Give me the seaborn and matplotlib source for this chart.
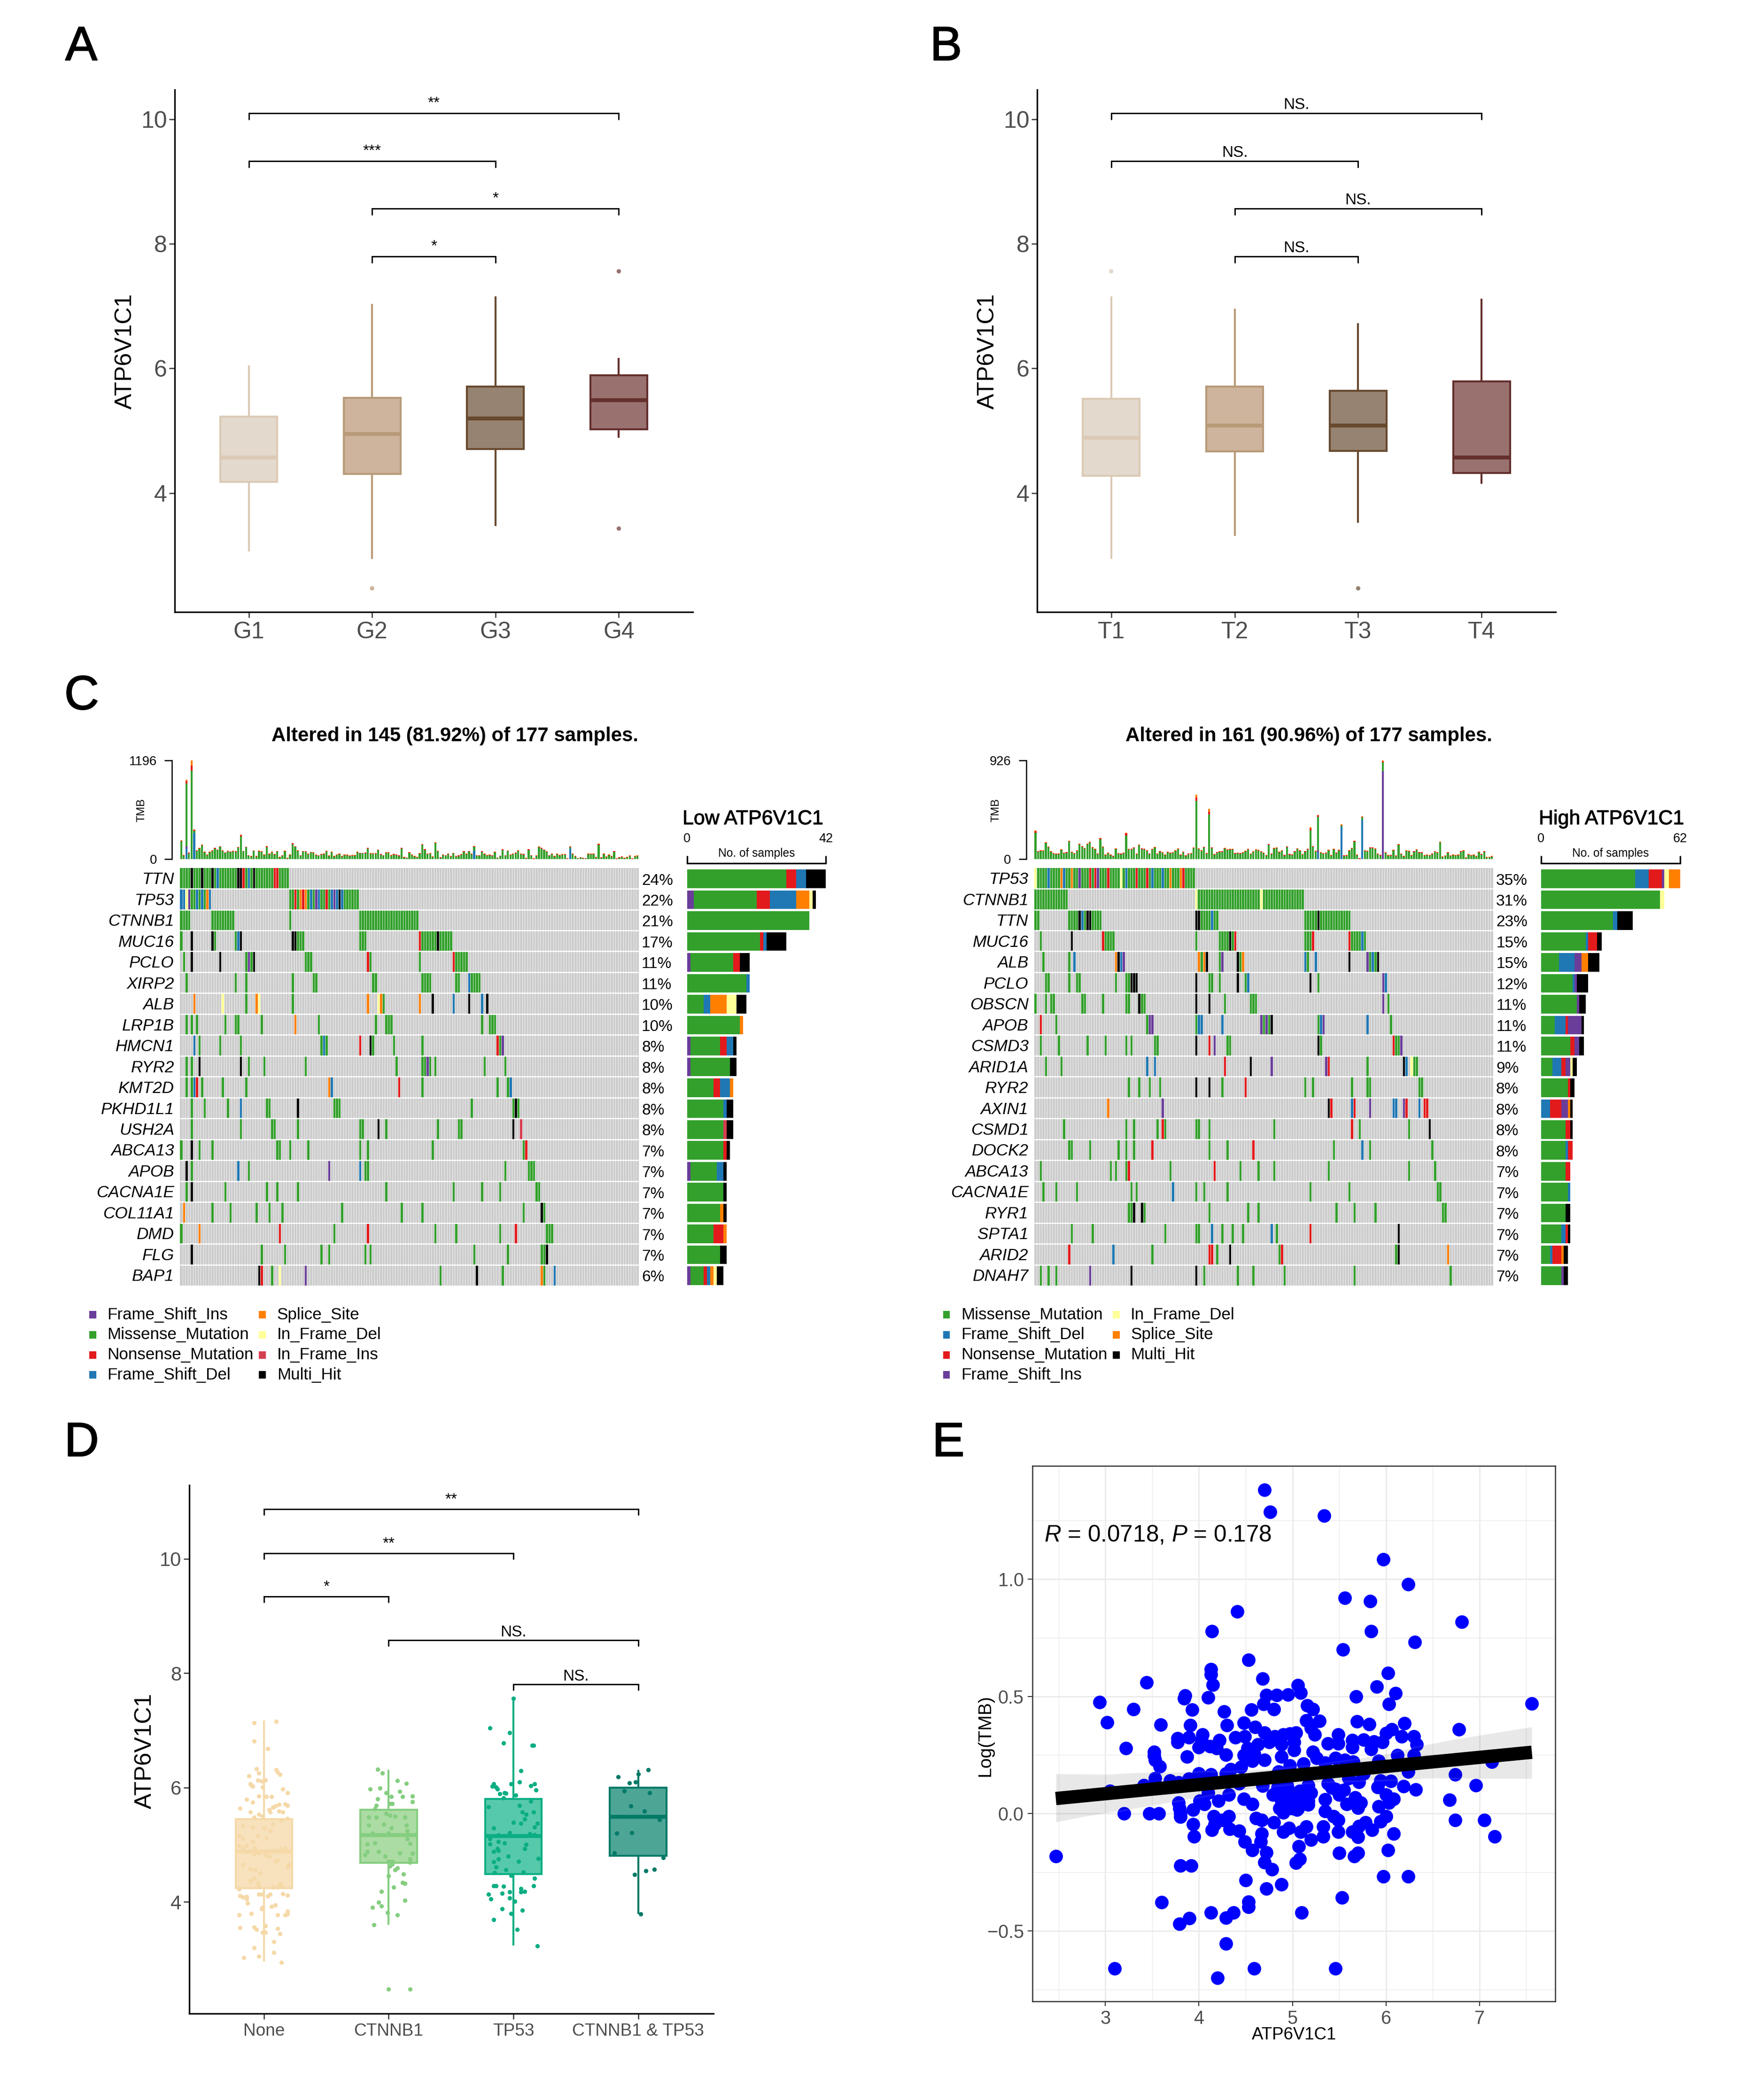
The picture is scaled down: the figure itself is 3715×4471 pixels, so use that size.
import re
import numpy as np
import pandas as pd
import seaborn as sns
import matplotlib
matplotlib.use("Agg")
import matplotlib.pyplot as plt
import matplotlib.patheffects as pe
from matplotlib.colors import ListedColormap
from matplotlib.patches import Rectangle
from matplotlib.ticker import MultipleLocator

W, H = 3715, 4471
sns.set_theme(style="white")
plt.rcParams["font.family"] = ["Liberation Sans", "DejaVu Sans"]
plt.rcParams["mathtext.fontset"] = "custom"
plt.rcParams["mathtext.rm"] = "Liberation Sans"
plt.rcParams["mathtext.it"] = "Liberation Sans:italic"

# ---------------- Panel A / B box summaries: low, q1, median, q3, high
grade_labels = ["G1", "G2", "G3", "G4"]
grade_stats = [[3.06, 4.18, 4.57, 5.23, 6.05], [2.94, 4.31, 4.95, 5.53, 7.04],
               [3.47, 4.71, 5.20, 5.71, 7.16], [4.89, 5.02, 5.49, 5.89, 6.17]]
grade_outliers = [(1, 2.47), (3, 7.56), (3, 3.43)]
stage_labels = ["T1", "T2", "T3", "T4"]
stage_stats = [[2.94, 4.28, 4.89, 5.51, 7.16], [3.31, 4.67, 5.08, 5.71, 6.96],
               [3.52, 4.68, 5.08, 5.64, 6.73], [4.15, 4.32, 4.57, 5.79, 7.12]]
stage_outliers = [(0, 7.56), (2, 2.47)]
brown_fill = ["#E3D9CC", "#CEB49C", "#978371", "#997270"]
brown_edge = ["#DCCAB6", "#B89A78", "#68492E", "#642F2C"]
grade_brackets = [(0, 3, 10.1, "**"), (0, 2, 9.33, "***"), (1, 3, 8.57, "*"), (1, 2, 7.8, "*")]
stage_brackets = [(0, 3, 10.1, "NS."), (0, 2, 9.33, "NS."), (1, 3, 8.57, "NS."), (1, 2, 7.8, "NS.")]

# ---------------- Panel D
mut_labels = ["None", "CTNNB1", "TP53", "CTNNB1 & TP53"]
mut_stats = [[2.96, 4.24, 4.88, 5.45, 7.17], [3.60, 4.68, 5.17, 5.61, 6.31],
             [3.24, 4.49, 5.15, 5.80, 7.56], [3.79, 4.81, 5.49, 6.00, 6.31]]
green_fill = ["#F8E2BD", "#ABDCA3", "#57C9AB", "#4DA595"]
green_edge = ["#F5D9A8", "#85CE80", "#0BAE83", "#047A68"]
mut_brackets = [(0, 3, 10.87, "**"), (0, 2, 10.10, "**"), (0, 1, 9.34, "*"),
                (1, 3, 8.58, "NS."), (2, 3, 7.81, "NS.")]
none_dx = [-.16,-.04,.08,.14,-.08,.08,.01,.13,-.01,.01,-.08,-.06,-.19,.11,-.20,-.10,-.01,-.02,.06,.09,.17,.19,.19,.11,.03,-.04,-.02,.05,.15,.19,-.19,-.17,-.14,-.13,-.14,-.20,-.05,-.04,.07,.11,.13,.14,-.08,-.11,-.03,-.07,-.11,-.17,.20,.19,.09,.11,.04,.01,-.08,-.04,-.17,-.14,-.20,-.09,-.07,.08,.17,.13,.19,.02,.05,0,-.09,-.17,-.20,-.17,-.05,.07,.14,.19,-.08,-.01,.05,-.04,.12,.04,.15,-.11,-.19,-.14,-.09,-.04,.02,.06,.09,.07,.17,.19,.12,.15,.19,-.01,-.10,-.09,-.11,-.05,-.02,.01,-.12,-.04,-.06,.10,.11,.13,-.08,.03,-.08,.10]
none_y = [3.02,3.05,3.11,2.94,3.20,3.30,3.47,3.44,3.47,3.58,3.56,3.52,3.55,3.53,3.77,3.80,3.90,3.88,3.92,3.94,3.77,3.84,3.79,3.77,4.10,4.13,4.13,4.13,4.14,4.12,4.11,4.08,4.05,3.98,4.09,4.22,4.33,4.28,4.26,4.26,4.31,4.28,4.41,4.37,4.50,4.56,4.58,4.65,4.65,4.61,4.71,4.73,4.80,4.82,4.84,4.86,4.94,4.99,4.99,5.05,4.95,4.90,4.94,4.92,4.88,5.12,5.24,5.29,5.31,5.33,5.16,5.11,5.16,5.36,5.43,5.46,5.48,5.50,5.57,5.53,5.59,5.61,5.57,5.57,5.64,5.79,5.74,5.85,5.84,5.84,5.68,5.65,5.71,5.69,5.70,5.97,5.91,6.01,6.04,6.02,6.06,6.13,6.11,6.13,6.20,6.25,6.33,6.31,6.27,6.23,6.81,6.68,7.13,7.16]
ctnnb1_dx = [-.09,-.05,.07,.14,-.15,-.07,-.02,.09,.19,.11,-.09,.02,.19,.01,.03,-.10,-.11,-.02,.01,-.16,-.10,.13,.05,-.16,-.04,.14,.02,.15,-.13,0,-.17,-.11,.15,.17,-.17,-.08,.09,.19,-.19,-.03,.17,.03,0,.17,.03,.01,.07,.05,.12,0,.11,.13,.04,-.06,.13,-.08,-.06,-.13,-.01,.07,-.12,0,.17]
ctnnb1_y = [6.32,6.25,6.12,6.07,5.97,5.99,5.91,5.93,5.85,5.84,5.80,5.84,5.75,5.72,5.72,5.69,5.63,5.55,5.51,5.48,5.48,5.48,5.50,5.34,5.36,5.34,5.29,5.24,5.20,5.20,5.01,5.03,5.10,5.02,4.88,4.88,4.86,4.85,4.82,4.80,4.75,4.71,4.71,4.69,4.66,4.63,4.59,4.56,4.49,4.45,4.34,4.32,4.26,4.18,4.03,3.99,3.93,3.90,3.81,3.77,3.60,2.47,2.47]
tp53_dx = [0,-.19,-.03,-.08,.15,.16,.06,.05,.17,.14,-.02,-.16,-.17,-.14,-.13,.18,-.07,-.06,-.11,.02,-.08,.14,-.20,.05,.07,.10,.16,.09,0,.19,.06,-.16,.17,-.03,.13,.17,-.12,-.19,-.12,-.07,-.19,.10,-.13,.09,-.16,-.12,-.04,-.12,.20,.04,-.16,-.14,-.06,-.15,.08,-.02,.17,-.16,-.14,-.08,.16,.06,.06,.09,-.20,-.09,-.03,-.18,.01,-.03,-.09,.07,-.02,-.16,.03,.19]
tp53_y = [7.56,7.04,6.96,6.78,6.74,6.74,6.29,6.10,6.06,6.03,6.06,6.06,6.02,6.01,5.97,5.96,5.91,5.90,5.89,5.87,5.82,5.76,5.66,5.69,5.57,5.53,5.57,5.45,5.39,5.37,5.37,5.29,5.31,5.21,5.19,5.18,5.17,5.10,5.05,5.03,5.01,5.00,4.93,4.93,4.88,4.90,4.80,4.75,4.76,4.71,4.70,4.61,4.56,4.51,4.52,4.46,4.41,4.28,4.28,4.27,4.28,4.23,4.17,4.18,4.13,4.15,4.17,4.05,4.01,4.07,3.88,3.85,3.80,3.69,3.52,3.23]
both_dx = [.08,-.16,0,-.02,-.07,-.11,.09,-.06,.05,.17,-.17,-.05,-.19,.20,.13,.06,-.03,.02]
both_y = [6.31,6.19,6.24,6.10,6.08,5.94,5.91,5.68,5.59,5.44,5.20,5.21,4.86,4.77,4.57,4.54,4.48,3.79]

# ---------------- Panel E
tmb_x = [4.70,4.76,5.34,5.97,6.24,5.56,5.83,4.41,6.81,4.14,5.84,6.31,5.54,4.53,4.13,4.13,6.02,4.68,3.44,4.15,5.06,5.90,5.09,4.95,4.83,4.72,6.10,3.85,3.84,4.10,5.68,2.94,6.03,4.69,5.16,7.56,5.22,3.30,4.56,4.80,3.93,4.27,5.15,5.29,3.02,5.69,5.82,6.20,4.48,4.30,3.59,3.91,4.60,5.20,6.06,6.78,4.70,6.00,5.24,5.49,4.04,6.30,6.17,3.77,3.89,4.39,4.49,5.04,4.97,4.90,4.81,3.77,4.22,4.03,5.64,5.76,5.87,5.96,5.38,5.49,6.33,5.02,4.88,4.75,4.63,4.12,4.00,4.19,4.52,5.64,5.84,3.22,5.02,3.52,5.22,4.29,4.48,4.59,6.12,6.30,4.88,3.87,3.52,3.53,5.26,5.46,4.70,4.57,5.56,5.65,5.92,7.13,5.35,3.58,4.97,5.12,4.45,4.34,4.85,6.24,5.76,4.00,4.13,6.74,4.29,3.53,3.89,3.69,5.94,6.05,3.78,4.43,5.71,3.41,4.68,5.17,5.38,5.91,6.19,6.96,6.32,3.05,5.08,5.46,5.55,4.79,4.95,5.20,4.10,4.32,6.00,4.48,4.01,4.21,6.08,5.67,4.88,5.04,5.17,5.35,6.68,6.03,5.73,3.78,4.06,4.57,5.58,5.17,4.88,3.79,4.99,5.70,5.92,4.86,3.94,5.05,3.20,3.47,3.57,3.80,4.90,5.35,3.80,4.16,4.32,5.44,6.00,4.61,5.49,6.74,7.05,4.25,4.67,5.94,4.80,3.94,5.78,4.17,5.71,4.33,4.96,5.15,5.33,4.14,5.85,4.43,4.90,5.49,5.09,5.64,4.67,6.08,5.70,3.95,7.16,5.33,5.20,4.49,4.66,5.07,4.57,6.02,4.72,5.50,5.70,5.66,2.47,5.08,4.70,5.04,3.80,3.92,4.78,5.97,6.24,4.50,4.88,4.72,5.53,4.53,3.60,4.53,4.13,5.10,4.37,4.29,3.90,3.79,4.29,3.10,4.59,5.46,4.20,4.92,4.98,5.10,4.84,5.00,5.13,4.94,5.06,4.90,5.16,5.42,5.50,5.60]
tmb_y = [1.38,1.285,1.27,1.084,.978,.92,.906,.861,.818,.778,.778,.732,.699,.656,.616,.594,.60,.576,.559,.549,.548,.541,.516,.508,.506,.506,.513,.503,.491,.496,.50,.475,.468,.468,.461,.47,.446,.445,.443,.445,.443,.435,.398,.395,.39,.393,.382,.385,.388,.377,.38,.377,.37,.365,.359,.359,.345,.344,.337,.337,.337,.329,.329,.32,.324,.324,.329,.345,.342,.337,.329,.304,.312,.312,.312,.315,.307,.304,.299,.299,.294,.304,.295,.304,.295,.287,.282,.279,.279,.282,.275,.279,.27,.262,.262,.25,.249,.254,.249,.249,.242,.242,.246,.229,.237,.237,.229,.224,.229,.221,.224,.221,.216,.20,.204,.212,.199,.188,.179,.179,.171,.171,.166,.166,.171,.151,.149,.141,.141,.138,.133,.129,.134,.12,.118,.121,.129,.113,.116,.121,.103,.096,.096,.105,.10,.08,.08,.088,.088,.08,.08,.063,.055,.055,.063,.068,.055,.055,.055,.06,.058,.046,.046,.046,.041,.041,.041,.038,.03,.022,.022,.025,.03,.022,.017,.017,0,0,0,0,.005,.01,-.013,-.012,-.012,-.012,-.012,-.02,-.028,-.027,-.027,-.028,-.028,-.033,-.037,-.045,-.037,-.045,-.053,-.066,-.061,-.056,-.056,-.07,-.07,-.073,-.078,-.078,-.078,-.078,-.086,-.085,-.10,-.098,-.098,-.098,-.111,-.12,-.12,-.139,-.156,-.156,-.166,-.168,-.168,-.181,-.181,-.194,-.207,-.209,-.221,-.221,-.237,-.267,-.267,-.284,-.302,-.319,-.357,-.375,-.378,-.397,-.422,-.422,-.422,-.443,-.445,-.47,-.553,-.659,-.659,-.659,-.70,.07,.09,.06,.11,.03,.05,.12,.02,.13,.04,.11,.08,.15]

# ---------------- Panel C: oncoplots
mut_colors = {"M": "#33A02C", "N": "#E31A1C", "D": "#1F78B4", "I": "#6A3D9A",
              "S": "#FF7F00", "Y": "#FFFF99", "C": "#D53E4F", "H": "#000000"}
mut_names = {"M": "Missense_Mutation", "N": "Nonsense_Mutation", "D": "Frame_Shift_Del",
             "I": "Frame_Shift_Ins", "S": "Splice_Site", "Y": "In_Frame_Del",
             "C": "In_Frame_Ins", "H": "Multi_Hit"}
low_genes = ["TTN","TP53","CTNNB1","MUC16","PCLO","XIRP2","ALB","LRP1B","HMCN1","RYR2","KMT2D","PKHD1L1","USH2A","ABCA13","APOB","CACNA1E","COL11A1","DMD","FLG","BAP1"]
low_pct = [24,22,21,17,11,11,10,10,8,8,8,8,8,7,7,7,7,7,7,6]
low_specs = [
 "M0-41 H4 H8 H12 D14 H22-23 N24 D26 H28 N36-37",
 "D0-1 Y2 I3 M4-5 D6 M7 D8 M9 S10 D11 M42-43 N44 M45 S46 N47 S48 M49 D50 M51 I52 D53 M54-55 N56 M57 D58 I59 D60 H61 D62 M63-68",
 "M0-3 M12-20 M42 M69-91",
 "M0 H4 H12 M13 M21 D22 H23 H43-44 M45-47 M69-71 N92 M93-98 H99 M100-104",
 "M1 H4 H15 M25 I26 M27 H28 M48-50 N72 M73 M92 N105 M106-110",
 "M2 M21 M25 M43 M51-52 M74-75 M93-96 M106-107 D111 M112-115",
 "S5 Y16 M25 S29 Y30 M43 S72 Y76 S77 M78 S92 H97 D105 H111 D116 H118",
 "M2 M4 M6 M17 M21-22 M31 S44 M53 M75 M79-81 M116 M119-121",
 "D5 M7 M15 M23 M54 D55 M56 N69 H73 M74 M82 M93 N122 M123 I124",
 "M2 M4 H7 H23 M26 M32 M48 M83 M93-94 I95 M96 M98 M117 M125",
 "M2 M4 D5 N6 M8 M16 M25 S57 D58 N84 M93 M122 M126 D127",
 "M4 M9 M18 D23 M33-34 H45 M59-61 M112 M128 H129 M130",
 "M4 M23 M35-36 M45 M69-70 H76 M79 M99 M107-108 H128 C131",
 "M0 H4 M7 M12 M37-38 M42 M49 M69 M72 M97 M132 N133",
 "H2 M4 D22 M26 I57 D69 M71-72 M125 M134-136",
 "M2 H4 M17 M33 M37 M45 M79 M105 M116 M123 M137-138",
 "S1 M12 M19 M29 M34 M39 M62 M85 M93 M132 H139 M140",
 "M0 S7 N38 M59 N72 M98 M106 M123 N129 M141-143",
 "H4 M31 M40 M54 M57 M71 M73 M113 M126 M139-140 H141",
 "H30 N31 M35 Y38 I48 M100 H114 M124 S139 M140 D144",
]
low_order = ["I", "M", "N", "D", "S", "Y", "C", "H"]
low_counts = {
 "I": [0,2,0,0,1,0,0,0,1,1,0,0,0,0,1,0,0,0,0,1],
 "M": [30,19,37,22,13,18,5,16,9,12,8,11,11,11,8,11,10,8,10,4],
 "N": [3,4,0,1,2,0,0,0,2,0,2,0,0,1,0,0,0,3,0,1],
 "D": [3,8,0,1,0,1,2,0,2,0,3,1,0,0,2,0,0,0,0,1],
 "S": [0,4,0,0,0,0,5,1,0,0,1,0,0,0,0,0,1,1,0,1],
 "Y": [0,1,0,0,0,0,3,0,0,0,0,0,0,0,0,0,0,0,0,1],
 "C": [0,0,0,0,0,0,0,0,0,0,0,0,1,0,0,0,0,0,0,0],
 "H": [6,1,0,6,3,0,3,0,1,2,0,2,2,1,1,1,1,0,2,2],
}
low_tmb = [226,51,962,80,1196,361,108,135,175,91,55,91,106,137,116,156,108,82,102,93,102,97,146,296,99,150,47,40,104,40,102,95,55,159,66,89,61,99,27,47,101,17,57,194,156,106,47,99,95,66,87,84,55,47,63,66,101,44,91,40,55,66,40,55,55,44,49,49,89,76,76,80,137,74,74,74,116,63,47,85,85,51,63,57,46,137,27,19,84,55,38,28,72,180,120,66,72,32,203,101,23,55,47,66,40,76,38,46,61,97,68,99,66,158,47,47,97,68,49,55,46,89,19,42,120,47,104,57,68,80,106,68,63,15,120,47,8,44,152,137,116,95,47,66,40,68,51,61,61,9,154,68,40,13,25,17,13,66,68,66,28,186,23,66,34,57,38,97,9,23,32,15,27,44,8,38,44]
low_tmb_blue = {2: 127, 5: 317, 113: 102, 150: 123}
low_tmb_purple = {2: 28}
low_tmb_red = {2: 30, 4: 63, 5: 8, 23: 14, 33: 12, 43: 12, 161: 12}
low_tmb_orange = {2: 14, 4: 63, 5: 10, 23: 6}

high_genes = ["TP53","CTNNB1","TTN","MUC16","ALB","PCLO","OBSCN","APOB","CSMD3","ARID1A","RYR2","AXIN1","CSMD1","DOCK2","ABCA13","CACNA1E","RYR1","SPTA1","ARID2","DNAH7"]
high_pct = [35,31,23,15,15,12,11,11,11,9,8,8,8,8,7,7,7,7,7,7]
high_specs = [
 "M0-61 Y0 D5 S10 D11 S14 I17 N21 N23 I24 N28 Y33 D35 N39 N43 D45 D49 S52 S56 N57",
 "M0-12 Y62 M63-86 Y87 M88-103",
 "M0-1 M13-16 H17 D18 M19 H20-21 M22-25 H62-63 M64-67 D68 M69-70 M104-108 H109 M110-121",
 "M2 H14 N26 M27-30 M62 M71-74 H75 M76 N77 M104-106 N107 N121 M122-125 D126 M127",
 "M3 M13 D15 S31 H32 D33 I34 S63 M64 S65 H66 M71 I72 H78 M79 S80 D104 M105 D108 H121 I128 M129 D130 M131 H132",
 "M4-5 M13 M16-17 M31 M35-36 H37-39 H62 M67-68 M71 H78 M81 D82 H106 M109 I134 D135",
 "M0 M4 M6-7 M18-19 M26 M35-36 H40 M41-42 H62 H67 M73 M83-85 I134 M136",
 "N2 M8 M43 I44-45 M62 D63-64 D72 I87 M88 I89 M90 H91 M109 D110 I111 D128 M137",
 "M2 M9 M20 M27 M35 M37 M46-47 H62 N67 I69 M74-75 H109 M110 N138 M139-140 I141",
 "M4 M10 D43 D46 N73 H83 I91 I112 N113 M128 H142 D143 Y145 M146-147",
 "M36 M40 M44 M48 H62 H67 M72 N81 M104 M107 M122 M128-129 M148-149",
 "S28 I49 H113 N114 D122 N123 I129 D138-139 I142 N143 D148 N150-151",
 "M11 M35 M38 M47 N49 M50 M62-63 M67 M92 N122 M125 M144 H152",
 "M13-14 M21 M32 M35 M38 N45 M67 M74 N84 M115 D126 M129 M153",
 "M2 M29 M31 M35 N36 M52 N69 M79 M86 M92 M113 M144 M154",
 "M3 M8 M16 M37 M39 D53 M62 M65 M74 M106 M121 M155-156",
 "M36-37 H38 H41 M42 M67 M82 M86 M116 M123 M131 M157-158",
 "M14 M22 M50 M62-63 D68 M72 M76 M80 D91 M93 N106 H140",
 "N13 D30 M45 N67-68 M70 H75 M94 N95 M139 H140 S159",
 "M2 M5 M8 I21 H37 H62 M65 M78 M84 M96 M123 M160",
]
high_order = ["M", "D", "N", "I", "Y", "S", "H"]
high_counts = {
 "M": [42,53,32,20,8,14,16,6,13,5,12,0,11,11,11,12,11,9,4,9],
 "D": [6,0,2,1,7,1,0,5,0,4,0,4,0,1,0,1,0,2,1,0],
 "N": [6,0,0,4,0,0,0,1,2,2,1,5,2,2,2,0,0,1,4,0],
 "I": [1,0,0,0,3,1,1,6,2,2,0,3,0,0,0,0,0,0,0,1],
 "Y": [2,2,0,0,0,0,0,0,0,1,0,0,0,0,0,0,0,0,0,0],
 "S": [5,0,0,0,3,0,0,0,0,0,0,1,0,0,0,0,0,0,1,0],
 "H": [0,0,7,2,5,5,3,1,2,2,2,1,1,0,0,0,2,1,2,2],
}
high_tmb = [268,76,82,82,157,118,75,57,51,54,91,60,68,172,69,57,82,146,122,106,146,162,113,96,54,198,118,44,62,43,32,101,57,54,60,247,96,98,112,53,137,103,98,82,54,96,113,53,76,65,44,71,60,66,82,100,44,71,37,54,57,110,604,100,84,116,59,473,112,47,68,75,76,104,91,97,97,59,62,59,66,78,97,53,75,93,88,75,62,40,143,54,106,110,69,84,41,121,50,46,76,100,84,49,76,98,298,122,78,413,66,57,63,88,40,97,63,88,326,37,38,84,106,173,44,10,403,82,78,112,112,101,51,41,926,66,38,41,88,34,141,53,31,84,79,38,76,93,68,68,38,44,40,54,75,65,163,25,35,65,35,43,38,43,76,84,18,47,40,44,31,69,50,76,22,21,29]
high_tmb_blue = {109: 62, 118: 301, 126: 370}
high_tmb_purple = {109: 22, 134: 826}
high_tmb_red = {0: 13, 35: 20, 62: 32, 67: 26, 106: 19, 109: 10, 25: 8, 134: 7}
high_tmb_orange = {0: 7, 35: 6, 62: 26, 67: 28, 106: 12, 109: 5, 118: 9, 126: 6, 134: 9}
low_legend = [["I", "M", "N", "D"], ["S", "Y", "C", "H"]]
high_legend = [["M", "D", "N", "I"], ["Y", "S", "H"]]
N_SAMPLES = 177
TIP_RED, TIP_ORANGE = 6, 3

fig = plt.figure(figsize=(W / 300, H / 300), dpi=300, facecolor="white")


def axpx(l, t, r, b):
    return fig.add_axes([l / W, 1 - b / H, (r - l) / W, (b - t) / H])


def txt(x, y, s, **kw):
    kw.setdefault("ha", "center")
    kw.setdefault("va", "center")
    return fig.text(x / W, 1 - y / H, s, **kw)


def letter(x, y, s):
    t = txt(x, y, s, ha="left", va="baseline", fontsize=24.5, color="black")
    t.set_path_effects([pe.withStroke(linewidth=0.5, foreground="black")])


def box_panel(ax, labels, stats, fills, edges, width, ylim, xlim=(-0.6, 3.6)):
    for lab, st, f, e in zip(labels, stats, fills, edges):
        d = pd.DataFrame({"g": [lab] * 5, "v": st})
        sns.boxplot(data=d, x="g", y="v", order=labels, color=f, linecolor=e, linewidth=1.0,
                    width=width, whis=(0, 100), showcaps=False, fliersize=0, saturation=1,
                    medianprops={"linewidth": 2.0, "color": e}, ax=ax)
    ax.set_xlim(*xlim)
    ax.set_ylim(*ylim)
    ax.set_xlabel("")
    ax.set_ylabel("")
    ax.set_yticks([4, 6, 8, 10])
    sns.despine(ax=ax)
    for s in ["left", "bottom"]:
        ax.spines[s].set_color("black")
        ax.spines[s].set_linewidth(0.8)
    ax.tick_params(axis="both", left=True, bottom=True, length=2.9, width=0.6, color="#333333",
                   labelcolor="#4D4D4D")
    ax.tick_params(axis="x", pad=2.0)
    ax.tick_params(axis="y", pad=1.0)


def brackets(ax, specs):
    for a, b, y, s in specs:
        ax.plot([a, a, b, b], [y - 0.1, y, y, y - 0.1], color="black", lw=0.7, solid_joinstyle="miter")
        off = 0.095 if s.startswith("*") else 0.065
        ax.text((a + b) / 2, y + off, s, ha="center", va="baseline", fontsize=8, color="black")


# A
axA = axpx(372, 191, 1475, 1303)
box_panel(axA, grade_labels, grade_stats, brown_fill, brown_edge, 0.46, (2.09, 10.475))
sns.scatterplot(x=[o[0] for o in grade_outliers], y=[o[1] for o in grade_outliers],
                hue=[o[0] for o in grade_outliers], palette={1: brown_fill[1], 3: brown_fill[3]},
                s=5, linewidth=0, legend=False, ax=axA)
axA.tick_params(axis="both", labelsize=12)
axA.set_xlim(-0.6, 3.6)
brackets(axA, grade_brackets)
txt(267, 748, "ATP6V1C1", rotation=90, fontsize=12, color="black")
letter(139, 128, "A")

# B
axB = axpx(2208, 191, 3312, 1303)
box_panel(axB, stage_labels, stage_stats, brown_fill, brown_edge, 0.46, (2.09, 10.475))
sns.scatterplot(x=[o[0] for o in stage_outliers], y=[o[1] for o in stage_outliers],
                hue=[o[0] for o in stage_outliers], palette={0: brown_fill[0], 2: brown_fill[2]},
                s=5, linewidth=0, legend=False, ax=axB)
axB.tick_params(axis="both", labelsize=12)
axB.set_xlim(-0.6, 3.6)
brackets(axB, stage_brackets)
txt(2103, 748, "ATP6V1C1", rotation=90, fontsize=12, color="black")
letter(1980, 128, "B")


# C
def parse_spec(spec):
    codes = list(mut_colors)
    row = np.zeros(N_SAMPLES, dtype=int)
    for tok in spec.split():
        m = re.match(r"([A-Z])(\d+)(?:-(\d+))?$", tok)
        a = int(m.group(2))
        b = int(m.group(3)) if m.group(3) else a
        row[a:b + 1] = codes.index(m.group(1)) + 1
    return row


def oncoplot(x0, x1, bar0, bar1, bar_max, title, side, genes, pct, specs, order, counts,
             tmb, t_blue, t_purple, t_red, t_orange, legend, leg_x, title_x, side_x):
    top, pitch = 1847.6, 44.47
    bottom = top + pitch * 20
    # heatmap
    ax = axpx(x0, top, x1, bottom)
    mat = np.array([parse_spec(s) for s in specs])
    cmap = ListedColormap(["#CCCCCC"] + list(mut_colors.values()))
    sns.heatmap(mat, cmap=cmap, vmin=-0.5, vmax=8.5, cbar=False, xticklabels=False,
                yticklabels=False, ax=ax)
    ax.vlines(np.arange(1, N_SAMPLES), 0, 20, color="white", lw=0.24, alpha=0.75)
    ax.hlines(np.arange(1, 20), 0, N_SAMPLES, color="white", lw=0.6)
    ax.set_xlim(0, N_SAMPLES)
    ax.set_ylim(20, 0)
    for i, g in enumerate(genes):
        txt(x0 - 12, top + pitch * (i + 0.5) + 3, g, ha="right", style="italic", fontsize=8.45, color="black")
        txt(x1 + 6, top + pitch * (i + 0.55) + 3, f"{pct[i]}%", ha="left", fontsize=8, color="black")
    # TMB bars
    axt = axpx(x0, 1619, x1, 1829)
    xs = np.arange(N_SAMPLES) + 0.5
    blue = np.array([t_blue.get(i, 0) for i in range(N_SAMPLES)], float)
    purple = np.array([t_purple.get(i, 0) for i in range(N_SAMPLES)], float)
    red = np.array([t_red.get(i, TIP_RED) for i in range(N_SAMPLES)], float)
    orange = np.array([t_orange.get(i, TIP_ORANGE) for i in range(N_SAMPLES)], float)
    total = np.array(tmb, float)
    green = np.maximum(total - blue - purple - red - orange, 0)
    b = np.zeros(N_SAMPLES)
    for vals, c in [(blue, "D"), (purple, "I"), (green, "M"), (red, "N"), (orange, "S")]:
        axt.bar(xs, vals, bottom=b, width=0.78, color=mut_colors[c], linewidth=0)
        b = b + vals
    axt.set_xlim(0, N_SAMPLES)
    axt.set_ylim(0, max(tmb))
    axt.set_yticks([0, max(tmb)])
    axt.set_xticks([])
    sns.despine(ax=axt, bottom=True)
    axt.spines["left"].set_position(("outward", 4))
    axt.spines["left"].set_color("black")
    axt.spines["left"].set_linewidth(0.6)
    axt.tick_params(axis="y", left=True, length=3.8, width=0.6, color="black", labelsize=6.6,
                    labelcolor="black", pad=4)
    txt(x0 - 81, 1724.5, "TMB", rotation=90, fontsize=5.7, color="black")
    # side bars
    axs = axpx(bar0, top, bar1, bottom)
    left = np.zeros(20)
    ypos = np.arange(20) + 0.5
    for c in order:
        v = np.array(counts[c], float)
        axs.barh(ypos + 0.03, v, left=left, height=0.89, color=mut_colors[c], linewidth=0)
        left = left + v
    axs.set_xlim(0, bar_max)
    axs.set_ylim(20, 0)
    axs.set_yticks([])
    axs.set_xticks([0, bar_max])
    sns.despine(ax=axs, left=True, bottom=True, top=False)
    axs.spines["top"].set_position(("outward", 2.3))
    axs.spines["top"].set_color("black")
    axs.spines["top"].set_linewidth(0.8)
    axs.xaxis.set_ticks_position("top")
    axs.tick_params(axis="x", top=True, bottom=False, labeltop=True, labelbottom=False, length=3.8,
                    width=0.8, color="black", labelsize=6.5, labelcolor="black", pad=5.5)
    txt((bar0 + bar1) / 2, 1817, "No. of samples", fontsize=5.9, color="black")
    txt(title_x, 1567, title, fontsize=10.1, fontweight="bold", color="black")
    t = txt(side_x, 1744, side, ha="left", fontsize=10.3, color="black")
    t.set_path_effects([pe.withStroke(linewidth=0.25, foreground="black")])
    # legend
    rows_y = [2799, 2842, 2884.5, 2927]
    for col, keys in zip(leg_x, legend):
        for yy, k in zip(rows_y, keys):
            fig.add_artist(Rectangle((col / W - 7.5 / W, 1 - (yy + 8) / H), 15 / W, 16 / H,
                                     transform=fig.transFigure, facecolor=mut_colors[k], edgecolor="none"))
            txt(col + 31, yy, mut_names[k], ha="left", fontsize=8.4, color="black")


oncoplot(383, 1360, 1463, 1758, 42, "Altered in 145 (81.92%) of 177 samples.", "Low ATP6V1C1",
         low_genes, low_pct, low_specs, low_order, low_counts, low_tmb, low_tmb_blue, low_tmb_purple,
         low_tmb_red, low_tmb_orange, low_legend, [197.6, 558.7], 969, 1453)
oncoplot(2201.6, 3179, 3281, 3576.5, 62, "Altered in 161 (90.96%) of 177 samples.", "High ATP6V1C1",
         high_genes, high_pct, high_specs, high_order, high_counts, high_tmb, high_tmb_blue,
         high_tmb_purple, high_tmb_red, high_tmb_orange, high_legend, [2015, 2376], 2786, 3276)
letter(137, 1510, "C")

# D
axD = axpx(402.6, 3162, 1519, 4286.5)
box_panel(axD, mut_labels, mut_stats, green_fill, green_edge, 0.455, (2.05, 11.29))
for i, (dx, y) in enumerate([(none_dx, none_y), (ctnnb1_dx, ctnnb1_y), (tp53_dx, tp53_y), (both_dx, both_y)]):
    sns.scatterplot(x=np.array(dx) + i, y=y, color=green_edge[i], s=5, linewidth=0, legend=False, zorder=4, ax=axD)
axD.set_xlim(-0.6, 3.604)
axD.tick_params(axis="x", labelsize=8.9)
axD.tick_params(axis="y", labelsize=10)
brackets(axD, mut_brackets)
txt(309, 3728, "ATP6V1C1", rotation=90, fontsize=12, color="black")
letter(137, 3100, "D")

# E
axE = axpx(2198, 3120.5, 3311, 4261)
sns.scatterplot(x=tmb_x, y=tmb_y, color="#0000FF", s=48, linewidth=0, legend=False, ax=axE)
sns.regplot(x=np.array(tmb_x), y=np.array(tmb_y), scatter=False, color="black", truncate=True, seed=7,
            n_boot=400, line_kws={"lw": 6.8, "solid_capstyle": "butt"}, ax=axE)
for c in axE.collections[1:]:
    c.set_alpha(0.09)
axE.set_xlim(2.22, 7.81)
axE.set_ylim(-0.80, 1.483)
axE.xaxis.set_major_locator(MultipleLocator(1))
axE.xaxis.set_minor_locator(MultipleLocator(0.5))
axE.yaxis.set_major_locator(MultipleLocator(0.5))
axE.yaxis.set_minor_locator(MultipleLocator(0.25))
axE.set_axisbelow(True)
axE.grid(which="major", color="#EBEBEB", lw=0.7)
axE.grid(which="minor", color="#EBEBEB", lw=0.35)
for s in axE.spines.values():
    s.set_color("#333333")
    s.set_linewidth(0.6)
    s.set_visible(True)
axE.set_yticks([-0.5, 0.0, 0.5, 1.0])
axE.set_yticklabels(["\u22120.5", "0.0", "0.5", "1.0"])
axE.tick_params(axis="both", which="major", left=True, bottom=True, length=2.4, width=0.5, color="#333333",
                labelcolor="#4D4D4D", labelsize=9.5, pad=2)
axE.tick_params(axis="both", which="minor", left=False, bottom=False)
axE.set_xlabel("")
axE.set_ylabel("")
txt(2755, 4333, "ATP6V1C1", fontsize=8.8, color="black")
txt(2098, 3695, "Log(TMB)", rotation=90, fontsize=9.4, color="black")
txt(2223, 3268, r"$\mathit{R}$ = 0.0718, $\mathit{P}$ = 0.178", ha="left", fontsize=11.9, color="black")
letter(1985, 3100, "E")

fig.savefig("out.png", dpi=300, facecolor="white")
